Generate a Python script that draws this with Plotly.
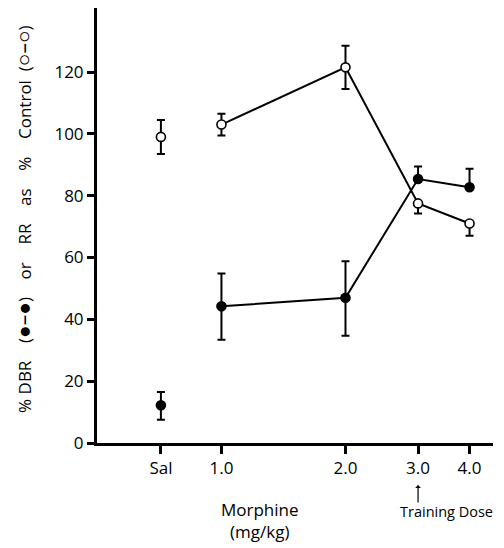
import plotly.graph_objects as go
import math

# ---- data ----
tick_labels = ["Sal", "1.0", "2.0", "3.0", "4.0"]
dose_pos = [0.713, 1.0, 2.0, 3.0, 4.0]          # Sal drawn left of 1.0 on the log dose axis

rr_vals = [99.0, 103.0, 121.5, 77.5, 71.0]       # % Control, open circles
rr_err_plus = [5.5, 3.5, 7.0, 0.0, 0.0]
rr_err_minus = [5.5, 3.5, 7.0, 3.3, 4.0]

dbr_vals = [12.2, 44.2, 47.0, 85.4, 82.7]        # % DBR, filled circles
dbr_err_plus = [4.3, 10.6, 11.8, 4.0, 6.0]
dbr_err_minus = [4.7, 10.8, 12.3, 0.0, 0.0]

y_ticks = [0, 20, 40, 60, 80, 100, 120]

FONT = "Open Sans"
BLACK = "#000000"

fig = go.Figure()


def add_series(vals, plus, minus, filled):
    marker = dict(
        symbol="circle",
        size=9,
        color=BLACK if filled else "white",
        line=dict(color=BLACK, width=1.6),
    )
    # Saline point: marker only, not connected
    fig.add_trace(go.Scatter(
        x=dose_pos[:1], y=vals[:1], mode="markers", marker=marker,
        error_y=dict(type="data", array=plus[:1], arrayminus=minus[:1],
                     color=BLACK, thickness=2, width=4),
        showlegend=False, cliponaxis=False,
    ))
    # Morphine doses: connected
    fig.add_trace(go.Scatter(
        x=dose_pos[1:], y=vals[1:], mode="lines+markers", marker=marker,
        line=dict(color=BLACK, width=2),
        error_y=dict(type="data", array=plus[1:], arrayminus=minus[1:],
                     color=BLACK, thickness=2, width=4),
        showlegend=False, cliponaxis=False,
    ))


add_series(dbr_vals, dbr_err_plus, dbr_err_minus, True)
add_series(rr_vals, rr_err_plus, rr_err_minus, False)

# page body has an 8px margin, so the figure is sized/offset to compensate
fig.update_layout(
    width=496, height=540,
    margin=dict(l=89, r=11, t=0, b=105, autoexpand=False),
    paper_bgcolor="white", plot_bgcolor="white",
    font=dict(family=FONT, size=17, color=BLACK),
    showlegend=False,
)

fig.update_xaxes(
    type="log",
    range=[-0.302, 0.659],
    tickvals=dose_pos, ticktext=tick_labels,
    showline=True, linecolor=BLACK, linewidth=3,
    ticks="outside", ticklen=8, tickwidth=3, tickcolor=BLACK,
    showgrid=False, zeroline=False,
    tickfont=dict(family=FONT, size=17, color=BLACK),
)
fig.update_yaxes(
    range=[0, 140.7],
    tickvals=y_ticks, ticktext=[str(v) for v in y_ticks],
    showline=True, linecolor=BLACK, linewidth=3,
    ticks="outside", ticklen=7, tickwidth=3, tickcolor=BLACK,
    showgrid=False, zeroline=False,
    tickfont=dict(family=FONT, size=17, color=BLACK),
)

NB = "\u00a0"
G = NB * 4
SYM = "<span style='font-size:21px'>"
ytitle = (f"%{NB}DBR{G}({SYM}●–●</span>){G}or{G}RR{G}as{G}%"
          f"{G}Control{NB}{NB}({SYM}○–○</span>)")
fig.add_annotation(
    text=ytitle,
    xref="paper", yref="paper", x=-0.187, y=0.515,
    textangle=-90, showarrow=False,
    font=dict(family=FONT, size=17, color=BLACK),
    xanchor="center", yanchor="middle",
)

# x-axis label
fig.add_annotation(
    text="Morphine<br>(mg/kg)",
    xref="x", yref="paper", x=0.0934, y=-0.179,
    showarrow=False, align="center",
    font=dict(family=FONT, size=17, color=BLACK),
    xanchor="center", yanchor="middle",
)

# training dose arrow + text
fig.add_annotation(
    text="", xref="x", yref="paper", x=math.log10(3.0), y=-0.0966,
    showarrow=True, arrowhead=1, arrowsize=0.8, arrowwidth=1.2,
    arrowcolor=BLACK, ax=0, ay=19,
)
fig.add_annotation(
    text="Training Dose",
    xref="x", yref="paper", x=0.545, y=-0.158,
    showarrow=False,
    font=dict(family=FONT, size=14.5, color=BLACK),
    xanchor="center", yanchor="middle",
)

fig.write_html("out.html")
